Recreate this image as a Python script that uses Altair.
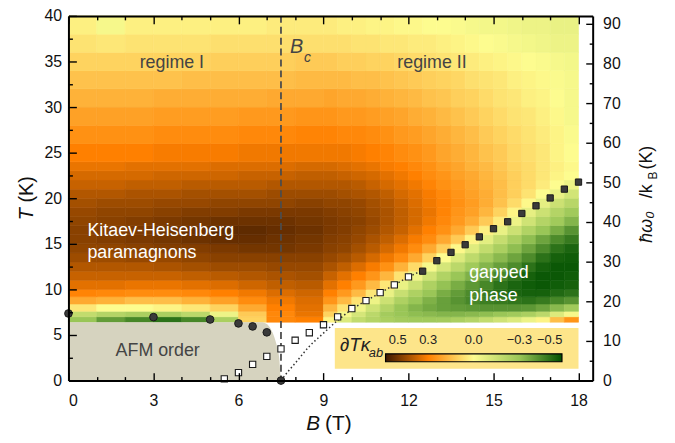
import altair as alt
import pandas as pd

# ---------------- data ----------------
# column edges in B (T): 1 T wide up to 9 T, 0.5 T wide beyond
B_edges = [0, 1, 2, 3, 4, 5, 6, 7, 8, 9, 9.5, 10, 10.5, 11, 11.5, 12, 12.5, 13, 13.5, 14,
           14.5, 15, 15.5, 16, 16.5, 17, 17.5, 18]
T_edges = [6.4, 7.0, 7.6, 8.4, 9.2, 10, 11, 12, 13, 14, 15, 16, 17, 18, 19, 20,
           21, 22, 23, 24, 26, 28, 30, 32, 34, 36, 38, 40]

# dT*kappa_ab read per (T row, B column); one list per T row
r00 = [-0.3, -0.4, -0.45, -0.5, -0.45, -0.25, 0.1, 0.28, 0.3,
       0.02, -0.1, -0.18, -0.22, -0.25, -0.27, -0.28, -0.28, -0.27, -0.25, -0.22, -0.18, -0.14, -0.1, -0.05, 0.02, 0.15, 0.25]
r01 = [-0.18, -0.22, -0.25, -0.25, -0.2, -0.05, 0.12, 0.28, 0.33,
       0.1, -0.02, -0.12, -0.2, -0.27, -0.3, -0.32, -0.33, -0.34, -0.34, -0.33, -0.32, -0.3, -0.28, -0.25, -0.2, -0.1, -0.02]
r02 = [0.05, 0.0, 0.0, 0.02, 0.05, 0.1, 0.2, 0.3, 0.34,
       0.17, 0.06, -0.04, -0.14, -0.22, -0.3, -0.34, -0.37, -0.39, -0.4, -0.41, -0.42, -0.42, -0.42, -0.41, -0.38, -0.33, -0.28]
r03 = [0.2, 0.18, 0.15, 0.15, 0.18, 0.22, 0.27, 0.32, 0.35,
       0.25, 0.16, 0.06, -0.05, -0.15, -0.24, -0.3, -0.35, -0.39, -0.42, -0.45, -0.47, -0.48, -0.49, -0.5, -0.48, -0.45, -0.42]
r04 = [0.29, 0.28, 0.27, 0.27, 0.28, 0.3, 0.32, 0.35, 0.37,
       0.3, 0.24, 0.16, 0.05, -0.06, -0.16, -0.24, -0.3, -0.36, -0.4, -0.44, -0.48, -0.51, -0.53, -0.54, -0.54, -0.52, -0.5]
r05 = [0.34, 0.34, 0.33, 0.33, 0.34, 0.35, 0.37, 0.39, 0.4,
       0.34, 0.3, 0.24, 0.16, 0.05, -0.06, -0.15, -0.24, -0.31, -0.36, -0.41, -0.45, -0.5, -0.53, -0.55, -0.56, -0.55, -0.54]
r06 = [0.38, 0.38, 0.38, 0.38, 0.39, 0.4, 0.41, 0.42, 0.43,
       0.38, 0.34, 0.3, 0.25, 0.17, 0.06, -0.04, -0.14, -0.23, -0.3, -0.35, -0.4, -0.45, -0.5, -0.54, -0.56, -0.56, -0.55]
r07 = [0.41, 0.41, 0.41, 0.42, 0.43, 0.44, 0.44, 0.45, 0.45,
       0.42, 0.39, 0.35, 0.31, 0.26, 0.18, 0.08, -0.02, -0.12, -0.2, -0.28, -0.34, -0.39, -0.44, -0.5, -0.54, -0.56, -0.56]
r08 = [0.44, 0.44, 0.45, 0.45, 0.46, 0.47, 0.47, 0.47, 0.47,
       0.45, 0.43, 0.4, 0.36, 0.32, 0.27, 0.2, 0.1, 0.0, -0.1, -0.19, -0.27, -0.33, -0.38, -0.44, -0.5, -0.54, -0.55]
r09 = [0.46, 0.46, 0.47, 0.48, 0.48, 0.49, 0.5, 0.5, 0.49,
       0.47, 0.46, 0.43, 0.4, 0.36, 0.32, 0.27, 0.2, 0.11, 0.01, -0.09, -0.18, -0.25, -0.32, -0.38, -0.44, -0.5, -0.53]
r10 = [0.47, 0.48, 0.49, 0.5, 0.51, 0.52, 0.52, 0.51, 0.5,
       0.48, 0.47, 0.45, 0.42, 0.39, 0.35, 0.31, 0.27, 0.2, 0.12, 0.02, -0.08, -0.17, -0.25, -0.32, -0.38, -0.44, -0.48]
r11 = [0.47, 0.48, 0.49, 0.5, 0.51, 0.53, 0.53, 0.52, 0.51,
       0.49, 0.48, 0.46, 0.44, 0.41, 0.38, 0.34, 0.3, 0.26, 0.2, 0.12, 0.03, -0.06, -0.15, -0.23, -0.3, -0.36, -0.42]
r12 = [0.46, 0.47, 0.48, 0.49, 0.5, 0.51, 0.51, 0.51, 0.5,
       0.49, 0.48, 0.47, 0.45, 0.42, 0.39, 0.36, 0.32, 0.28, 0.24, 0.19, 0.12, 0.04, -0.05, -0.14, -0.22, -0.28, -0.34]
r13 = [0.45, 0.46, 0.46, 0.47, 0.48, 0.48, 0.49, 0.49, 0.49,
       0.48, 0.47, 0.46, 0.44, 0.42, 0.39, 0.36, 0.33, 0.29, 0.25, 0.22, 0.17, 0.1, 0.02, -0.07, -0.15, -0.22, -0.28]
r14 = [0.43, 0.44, 0.44, 0.45, 0.45, 0.46, 0.46, 0.46, 0.47,
       0.46, 0.46, 0.45, 0.43, 0.41, 0.38, 0.35, 0.32, 0.29, 0.26, 0.23, 0.19, 0.14, 0.08, 0.01, -0.07, -0.15, -0.21]
r15 = [0.41, 0.41, 0.42, 0.42, 0.43, 0.43, 0.43, 0.44, 0.44,
       0.44, 0.43, 0.42, 0.41, 0.39, 0.36, 0.34, 0.31, 0.28, 0.25, 0.22, 0.19, 0.15, 0.11, 0.06, 0.0, -0.06, -0.13]
r16 = [0.38, 0.38, 0.39, 0.39, 0.4, 0.4, 0.4, 0.41, 0.41,
       0.41, 0.41, 0.4, 0.38, 0.36, 0.34, 0.32, 0.29, 0.26, 0.24, 0.21, 0.18, 0.15, 0.11, 0.08, 0.04, 0.0, -0.05]
r17 = [0.36, 0.36, 0.36, 0.37, 0.37, 0.37, 0.38, 0.38, 0.39,
       0.39, 0.38, 0.37, 0.36, 0.34, 0.32, 0.3, 0.27, 0.25, 0.22, 0.2, 0.17, 0.14, 0.11, 0.08, 0.05, 0.02, 0.0]
r18 = [0.33, 0.33, 0.34, 0.34, 0.34, 0.35, 0.35, 0.35, 0.36,
       0.36, 0.35, 0.34, 0.33, 0.31, 0.3, 0.28, 0.26, 0.23, 0.21, 0.18, 0.16, 0.13, 0.1, 0.08, 0.05, 0.03, 0.01]
r19 = [0.3, 0.3, 0.3, 0.31, 0.31, 0.31, 0.32, 0.32, 0.32,
       0.32, 0.32, 0.31, 0.3, 0.29, 0.27, 0.26, 0.24, 0.21, 0.19, 0.17, 0.14, 0.12, 0.09, 0.07, 0.05, 0.02, 0.0]
r20 = [0.26, 0.26, 0.26, 0.27, 0.27, 0.27, 0.28, 0.28, 0.29,
       0.29, 0.28, 0.28, 0.27, 0.26, 0.24, 0.23, 0.21, 0.19, 0.17, 0.15, 0.12, 0.1, 0.08, 0.06, 0.04, 0.02, -0.01]
r21 = [0.22, 0.22, 0.22, 0.23, 0.23, 0.23, 0.24, 0.24, 0.25,
       0.25, 0.24, 0.24, 0.23, 0.22, 0.21, 0.19, 0.18, 0.16, 0.14, 0.12, 0.1, 0.08, 0.06, 0.05, 0.03, 0.01, -0.02]
r22 = [0.18, 0.18, 0.18, 0.19, 0.19, 0.19, 0.19, 0.2, 0.2,
       0.21, 0.2, 0.2, 0.19, 0.18, 0.17, 0.16, 0.14, 0.13, 0.11, 0.1, 0.08, 0.06, 0.05, 0.03, 0.02, 0.0, -0.02]
r23 = [0.14, 0.14, 0.14, 0.14, 0.15, 0.15, 0.15, 0.15, 0.16,
       0.16, 0.16, 0.15, 0.15, 0.14, 0.13, 0.12, 0.11, 0.1, 0.09, 0.07, 0.06, 0.05, 0.03, 0.02, 0.01, -0.01, -0.02]
r24 = [0.1, 0.1, 0.1, 0.1, 0.1, 0.11, 0.11, 0.11, 0.12,
       0.12, 0.11, 0.11, 0.1, 0.1, 0.09, 0.08, 0.07, 0.06, 0.05, 0.04, 0.03, 0.02, 0.01, 0.0, -0.01, -0.02, -0.03]
r25 = [0.06, 0.05, 0.06, 0.06, 0.06, 0.07, 0.07, 0.07, 0.07,
       0.07, 0.07, 0.06, 0.06, 0.05, 0.05, 0.04, 0.04, 0.03, 0.02, 0.01, 0.0, -0.01, -0.02, -0.03, -0.04, -0.05, -0.05]
r26 = [0.03, -0.02, 0.03, 0.03, 0.03, 0.03, 0.03, 0.04, 0.04,
       0.04, 0.03, 0.03, 0.02, 0.02, 0.01, 0.01, 0.0, 0.0, -0.01, -0.02, -0.03, -0.03, -0.04, -0.05, -0.05, -0.06, -0.06]
kappa_rows = [r00, r01, r02, r03, r04, r05, r06, r07, r08, r09, r10, r11, r12, r13,
              r14, r15, r16, r17, r18, r19, r20, r21, r22, r23, r24, r25, r26]

circ_B = [0, 3, 5, 6, 6.5, 7, 7.5]
circ_T = [7.36, 6.96, 6.7, 6.27, 5.94, 5.29, 0.0]
open_B = [5.5, 6.0, 6.5, 7.0, 7.5, 8.0, 8.5, 9.0, 9.5, 10.0, 10.5, 11.0, 11.5, 12.0]
open_T = [0.18, 0.87, 1.78, 2.65, 3.48, 4.42, 5.25, 6.12, 6.99, 7.9, 8.77, 9.64, 10.5, 11.38]
full_B = [12.5, 13, 13.5, 14, 14.5, 15, 15.5, 16, 16.5, 17, 17.5, 18]
full_T = [12.0, 13.15, 14.06, 14.9, 15.76, 16.66, 17.42, 18.33, 19.17, 20.03, 21.0, 21.77]
dot_B = [7.5, 7.75, 8.0, 8.5, 9.0, 9.5, 10.0, 10.5, 11.0, 11.5, 12.0, 12.5]
dot_T = [0.0, 1.0, 1.9, 3.75, 5.2, 6.6, 7.8, 8.75, 9.62, 10.5, 11.35, 12.1]
afm_B = [0, 6.8, 7.0, 7.14, 7.32, 7.44, 7.48, 7.5]
afm_T = [6.4, 6.4, 6.2, 5.65, 4.2, 2.4, 0.6, 0.0]
Bc_B = [7.5]
box_B = [9.4, 18.0]
box_T = [1.3, 5.76]

x_major = [0, 3, 6, 9, 12, 15, 18]
x_minor = [0, 1, 2, 3, 4, 5, 6, 7, 8, 9, 10, 11, 12, 13, 14, 15, 16, 17, 18]
y_major = [0, 5, 10, 15, 20, 25, 30, 35, 40]
y_minor = [0, 2.5, 5, 7.5, 10, 12.5, 15, 17.5, 20, 22.5, 25, 27.5, 30, 32.5, 35, 37.5, 40]
w_major = [0, 10, 20, 30, 40, 50, 60, 70, 80, 90]
w_minor = [0, 5, 10, 15, 20, 25, 30, 35, 40, 45, 50, 55, 60, 65, 70, 75, 80, 85, 90]
cbar_ticks = [0.5, 0.3, 0.0, -0.3, -0.5]
cbar_dom = [0.58, 0.3, 0.0, -0.3, -0.58]
edge_dom = [0.581, 0.3, 0.0, -0.3, -0.581]
cbar_colors = ["#3c1800", "#ff8000", "#fdfc8f", "#9ac657", "#005000"]

# ---------------- chart ----------------
W, H = 529, 368
FONT = "Liberation Sans"
xs = alt.Scale(domain=[0, 18.5], nice=False, zero=False)
ys = alt.Scale(domain=[0, 40], nice=False, zero=False)
ws = alt.Scale(domain=[0, 92], nice=False, zero=False)

x_axis = alt.Axis(values=x_major, ticks=False, labelPadding=12, labelFontSize=16, labelFont=FONT,
                  labelColor="#111", domain=True, domainColor="#000", domainWidth=2, grid=False,
                  title=None, zindex=1)
y_axis = alt.Axis(values=y_major, ticks=False, labelPadding=7, labelFontSize=16, labelFont=FONT,
                  labelColor="#111", domain=True, domainColor="#000", domainWidth=2, grid=False,
                  title=None, zindex=1)


def X(f):
    return alt.X(f, type="quantitative", scale=xs, axis=x_axis)


def Y(f):
    return alt.Y(f, type="quantitative", scale=ys, axis=y_axis)


recs = []
for i, row in enumerate(kappa_rows):
    for j, v in enumerate(row):
        recs.append({"B0": B_edges[j], "B1": B_edges[j + 1],
                     "T0": T_edges[i], "T1": T_edges[i + 1], "v": v, "vs": v})
heat_df = pd.DataFrame(recs)

fill_scale = alt.Scale(domain=cbar_dom, range=cbar_colors, clamp=True, nice=False, zero=False,
                       interpolate="rgb")
edge_scale = alt.Scale(domain=edge_dom, range=cbar_colors, clamp=True, nice=False, zero=False,
                       interpolate="rgb")

legend = alt.Legend(
    type="gradient", orient="none", legendX=320, legendY=341, direction="horizontal",
    title=None, gradientLength=178, gradientThickness=8, gradientStrokeColor="#000",
    gradientStrokeWidth=1.2, values=cbar_ticks, format=".1f", labelFontSize=13,
    labelFont=FONT, labelColor="#222", labelOffset={"expr": "-28"}, labelOverlap=False, padding=0,
)

heat = alt.Chart(heat_df).mark_rect(strokeWidth=0.6).encode(
    x=X("B0"), x2="B1", y=Y("T0"), y2="T1",
    fill=alt.Fill("v:Q", scale=fill_scale, legend=legend),
    stroke=alt.Stroke("vs:Q", scale=edge_scale, legend=None),
)

afm = alt.Chart(pd.DataFrame({"B": afm_B, "T": afm_T})).mark_area(
    color="#d6d3bf", interpolate="monotone").encode(x=X("B"), y=Y("T"), y2=alt.datum(0))

box = alt.Chart(pd.DataFrame({"B": [box_B[0]], "B2": [box_B[1]], "T": [box_T[0]], "T2": [box_T[1]]})).mark_rect(
    color="#fde58a").encode(x=X("B"), x2="B2", y=Y("T"), y2="T2")

bc_rule = alt.Chart(pd.DataFrame({"B": Bc_B})).mark_rule(
    color="#4d4d4d", strokeWidth=1.8, strokeDash=[7, 4]).encode(x=X("B"))

dotted = alt.Chart(pd.DataFrame({"B": dot_B, "T": dot_T})).mark_line(
    color="#333", strokeWidth=1.5, strokeDash=[1.5, 2.5], interpolate="monotone").encode(
    x=X("B"), y=Y("T"))

circles = alt.Chart(pd.DataFrame({"B": circ_B, "T": circ_T})).mark_point(
    shape="circle", filled=True, size=60, fill="#3a3a3a", stroke="#1a1a1a", strokeWidth=1,
    opacity=1).encode(x=X("B"), y=Y("T"))
opens = alt.Chart(pd.DataFrame({"B": open_B, "T": open_T})).mark_point(
    shape="square", filled=True, size=40, fill="#ffffff", stroke="#1a1a1a", strokeWidth=1.1,
    opacity=1).encode(x=X("B"), y=Y("T"))
fulls = alt.Chart(pd.DataFrame({"B": full_B, "T": full_T})).mark_point(
    shape="square", filled=True, size=40, fill="#3a3a3a", stroke="#1a1a1a", strokeWidth=1,
    opacity=1).encode(x=X("B"), y=Y("T"))


def txt(labels, bs, ts, **kw):
    df = pd.DataFrame({"label": labels, "B": bs, "T": ts})
    return alt.Chart(df).mark_text(font=FONT, **kw).encode(x=X("B"), y=Y("T"), text="label:N")


t_reg = txt(["regime I", "regime II", "AFM order"], [3.65, 12.83, 3.15], [34.8, 34.8, 3.2],
            fontSize=18, color="#444", align="center", baseline="middle")
t_white = txt(["Kitaev-Heisenberg", "paramagnons", "gapped", "phase"],
              [0.67, 0.67, 14.14, 14.14], [16.4, 14.0, 11.8, 9.3],
              fontSize=18, color="#ffffff", align="left", baseline="middle")
t_bc = txt(["B"], [7.82], [36.6], fontSize=20, color="#444", align="left", baseline="middle",
           fontStyle="italic")
t_bc_sub = txt(["c"], [8.31], [35.4], fontSize=14, color="#444", align="left", baseline="middle",
               fontStyle="italic")
t_cb = txt(["∂Tκ"], [9.58], [3.9], fontSize=19, color="#222", align="left", baseline="middle",
           fontStyle="italic")
t_ab = txt(["ab"], [10.6], [3.05], fontSize=13, color="#222", align="left", baseline="middle",
           fontStyle="italic")


def ptxt(label, px, py, **kw):
    return alt.Chart(pd.DataFrame({"label": [label]})).mark_text(font=FONT, **kw).encode(
        x=alt.value(px), y=alt.value(py), text="label:N")


tx1 = ptxt("B", 254, 418, fontSize=21, fontStyle="italic", align="right", baseline="alphabetic", color="#111")
tx2 = ptxt("(T)", 259, 418, fontSize=21, align="left", baseline="alphabetic", color="#111")
ty1 = ptxt("T", -36, 200, fontSize=20, fontStyle="italic", align="center", baseline="alphabetic",
           angle=270, color="#111")
ty2 = ptxt("(K)", -36, 175, fontSize=20, align="center", baseline="alphabetic", angle=270, color="#111")
tw1 = ptxt("ħω₀", 589, 213, fontSize=18, fontStyle="italic", align="center", baseline="alphabetic",
           angle=270, color="#111")
tw2 = ptxt("/k", 589, 177, fontSize=18, align="center", baseline="alphabetic", angle=270, color="#111")
tw3 = ptxt("B", 594, 161, fontSize=12, align="center", baseline="alphabetic", angle=270, color="#111")
tw4 = ptxt("(K)", 589, 143, fontSize=18, align="center", baseline="alphabetic", angle=270, color="#111")

main = alt.layer(heat, afm, box, bc_rule, dotted, circles, opens, fulls, t_reg, t_white, t_bc,
                 t_bc_sub, t_cb, t_ab, tx1, tx2, ty1, ty2, tw1, tw2, tw3, tw4)


def tick_cond(mod, big, small):
    return {"condition": {"test": f"datum.value % {mod} === 0", "value": big}, "value": small}


def xticks(orient, dom):
    ax = alt.Axis(orient=orient, offset=-H, values=x_minor, labels=False, domain=dom,
                  domainColor="#000", domainWidth=2, grid=False, title=None, tickColor="#000",
                  tickWidth=1.4, tickSize=tick_cond(3, 8, 4), zindex=1)
    return alt.Chart(pd.DataFrame({"B": x_minor})).mark_point(opacity=0).encode(
        x=alt.X("B:Q", scale=xs, axis=ax))


def yticks(field, vals, scale, orient, mod, big, small):
    ax = alt.Axis(orient=orient, offset=-W, values=vals, labels=False, domain=False, grid=False,
                  title=None, tickColor="#000", tickWidth=1.4, tickSize=tick_cond(mod, big, small),
                  zindex=1)
    return alt.Chart(pd.DataFrame({field: vals})).mark_point(opacity=0).encode(
        y=alt.Y(f"{field}:Q", scale=scale, axis=ax))


right_lab = alt.Chart(pd.DataFrame({"w": w_major})).mark_point(opacity=0).encode(
    y=alt.Y("w:Q", scale=ws, axis=alt.Axis(orient="right", values=w_major, ticks=False,
                                          labelPadding=10, labelFontSize=16, labelFont=FONT,
                                          labelColor="#111", domain=True, domainColor="#000",
                                          domainWidth=2, grid=False, title=None, zindex=1)))

chart = alt.layer(
    main,
    xticks("top", False),
    xticks("bottom", True),
    yticks("T", y_minor, ys, "right", 5, 8, 4),
    right_lab,
    yticks("w", w_minor, ws, "left", 10, 7, 3.5),
).resolve_scale(x="independent", y="independent").properties(
    width=W, height=H,
    autosize=alt.AutoSizeParams(type="none"),
    padding={"left": 61, "top": 6, "right": 75, "bottom": 58},
).configure_view(fill="#fcf9dc", stroke=None).configure(background="#ffffff")

chart.save("out.html", embed_options={"renderer": "svg", "actions": False})
